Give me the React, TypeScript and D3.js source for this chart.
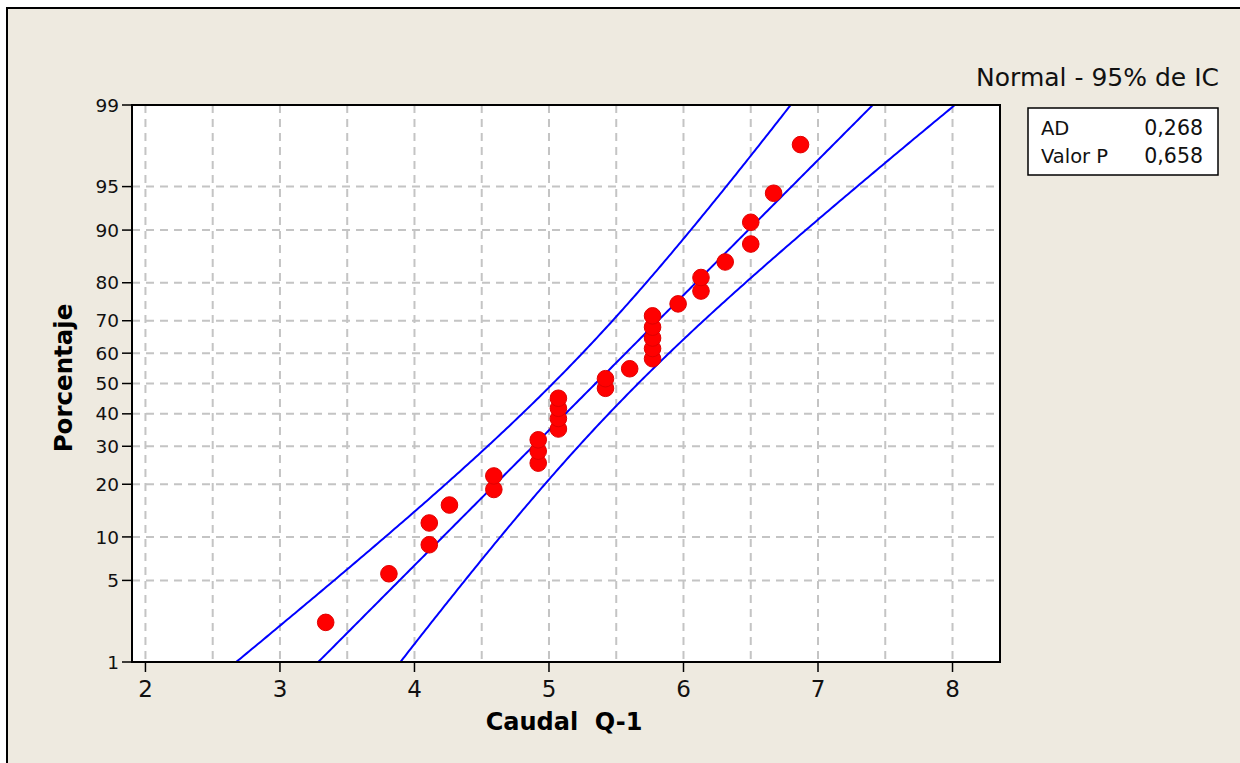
import React, { useEffect, useRef } from 'react'
import * as d3 from 'd3'

// values
const caudal = [3.34, 3.81, 4.11, 4.11, 4.26, 4.59, 4.59, 4.92, 4.92, 4.92,
  5.07, 5.07, 5.07, 5.07, 5.42, 5.42, 5.60, 5.77, 5.77, 5.77,
  5.77, 5.77, 5.96, 6.13, 6.13, 6.31, 6.50, 6.50, 6.67, 6.87];
const porcentaje = [2.3, 5.6, 8.9, 12.2, 15.5, 18.8, 22.0, 25.3, 28.6, 31.9,
  35.2, 38.5, 41.8, 45.1, 48.4, 51.6, 54.9, 58.2, 61.5, 64.8,
  68.1, 71.4, 74.7, 78.0, 81.2, 84.5, 87.8, 91.1, 94.4, 97.7];
const yTicks = [1, 5, 10, 20, 30, 40, 50, 60, 70, 80, 90, 95, 99];
const xTicks = [2, 3, 4, 5, 6, 7, 8];
const xGrid = [2, 2.5, 3, 3.5, 4, 4.5, 5, 5.5, 6, 6.5, 7, 7.5, 8];
const fit = { media: 5.346, desv: 0.886, n: 30 };
const stats = [["AD", "0,268"], ["Valor P", "0,658"]];

// inverse normal cdf (Acklam)
function probit(p: number) {
  const a = [-39.69683028665376, 220.9460984245205, -275.9285104469687, 138.357751867269, -30.66479806614716, 2.506628277459239];
  const b = [-54.47609879822406, 161.5858368580409, -155.6989798598866, 66.80131188771972, -13.28068155288572];
  const c = [-0.007784894002430293, -0.3223964580411365, -2.400758277161838, -2.549732539343734, 4.374664141464968, 2.938163982698783];
  const d = [0.007784695709041462, 0.3224671290700398, 2.445134137142996, 3.754408661907416];
  const pl = 0.02425;
  let q, r;
  if (p < pl) {
    q = Math.sqrt(-2 * Math.log(p));
    return (((((c[0] * q + c[1]) * q + c[2]) * q + c[3]) * q + c[4]) * q + c[5]) / ((((d[0] * q + d[1]) * q + d[2]) * q + d[3]) * q + 1);
  }
  if (p <= 1 - pl) {
    q = p - 0.5; r = q * q;
    return (((((a[0] * r + a[1]) * r + a[2]) * r + a[3]) * r + a[4]) * r + a[5]) * q / (((((b[0] * r + b[1]) * r + b[2]) * r + b[3]) * r + b[4]) * r + 1);
  }
  q = Math.sqrt(-2 * Math.log(1 - p));
  return -(((((c[0] * q + c[1]) * q + c[2]) * q + c[3]) * q + c[4]) * q + c[5]) / ((((d[0] * q + d[1]) * q + d[2]) * q + d[3]) * q + 1);
}

const font = "'DejaVu Sans', Verdana, sans-serif";

export default function App() {
  const ref = useRef<SVGSVGElement>(null);

  useEffect(() => {
    const svg = d3.select(ref.current);
    svg.selectAll("*").remove();

    const left = 132, right = 1000, top = 105, bottom = 662;
    const x = d3.scaleLinear().domain([1.9, 8.353]).range([left, right]);
    const zScale = d3.scaleLinear().domain([probit(0.01), probit(0.99)]).range([bottom, top]);
    const y = (p: number) => zScale(probit(p / 100));

    // background frame
    svg.append("rect").attr("width", 1240).attr("height", 763).attr("fill", "#ffffff");
    svg.append("rect").attr("x", 7).attr("y", 8).attr("width", 1240).attr("height", 770)
      .attr("fill", "#eeeae0").attr("stroke", "#000").attr("stroke-width", 2);

    svg.append("defs").append("clipPath").attr("id", "plotclip")
      .append("rect").attr("x", left).attr("y", top).attr("width", right - left).attr("height", bottom - top);

    svg.append("rect").attr("x", left).attr("y", top).attr("width", right - left).attr("height", bottom - top)
      .attr("fill", "#fff");

    // grid
    const grid = svg.append("g").attr("stroke", "#c4c4c4").attr("stroke-width", 2).attr("stroke-dasharray", "8,6");
    grid.selectAll("line.v").data(xGrid).enter().append("line")
      .attr("x1", (d) => x(d)).attr("x2", (d) => x(d))
      .attr("y1", top).attr("y2", bottom);
    grid.selectAll("line.h").data(yTicks.filter((t) => t > 1 && t < 99)).enter().append("line")
      .attr("x1", left).attr("x2", right)
      .attr("y1", (d) => y(d)).attr("y2", (d) => y(d));

    // fitted line and 95% bands
    const zs = d3.range(probit(0.01) - 0.05, probit(0.99) + 0.05, 0.02);
    const { media, desv, n } = fit;
    const band = (k: number) => zs.map((z) => [
      x(media + z * desv + k * 1.96 * desv * Math.sqrt(1 / n + z * z / (2 * n))),
      zScale(z)
    ] as [number, number]);
    const line = d3.line();
    const lines = svg.append("g").attr("clip-path", "url(#plotclip)");
    [-1, 0, 1].forEach((k) => {
      lines.append("path").attr("d", line(band(k)))
        .attr("fill", "none").attr("stroke", "#0000ff").attr("stroke-width", 2);
    });

    // points
    svg.append("g").selectAll("circle")
      .data(caudal.map((c, i) => [c, porcentaje[i]]))
      .enter().append("circle")
      .attr("cx", (d) => x(d[0])).attr("cy", (d) => y(d[1])).attr("r", 8.3)
      .attr("fill", "#ff0000").attr("stroke", "#e00000").attr("stroke-width", 1);

    // frame
    svg.append("rect").attr("x", left).attr("y", top).attr("width", right - left).attr("height", bottom - top)
      .attr("fill", "none").attr("stroke", "#000").attr("stroke-width", 2);

    // y axis
    const ya = svg.append("g");
    yTicks.forEach((t) => {
      ya.append("line").attr("x1", left - 10).attr("x2", left).attr("y1", y(t)).attr("y2", y(t))
        .attr("stroke", "#000").attr("stroke-width", 1.5);
      ya.append("text").attr("x", left - 13).attr("y", y(t)).attr("dy", "0.36em")
        .attr("text-anchor", "end").attr("font-family", font).attr("font-size", 18.5)
        .attr("fill", "#111").text(t);
    });

    // x axis
    const xa = svg.append("g");
    xTicks.forEach((t) => {
      xa.append("line").attr("x1", x(t)).attr("x2", x(t)).attr("y1", bottom).attr("y2", bottom + 10)
        .attr("stroke", "#000").attr("stroke-width", 1.5);
      xa.append("text").attr("x", x(t)).attr("y", bottom + 35)
        .attr("text-anchor", "middle").attr("font-family", font).attr("font-size", 23)
        .attr("fill", "#111").text(t);
    });

    svg.append("text").attr("x", 564).attr("y", 730).attr("text-anchor", "middle")
      .attr("font-family", font).attr("font-size", 24).attr("font-weight", "bold")
      .attr("xml:space", "preserve").style("white-space", "pre").text("Caudal  Q-1");

    svg.append("text").attr("transform", "translate(72,378) rotate(-90)").attr("text-anchor", "middle")
      .attr("font-family", font).attr("font-size", 24.5).attr("font-weight", "bold").text("Porcentaje");

    // title + legend box
    svg.append("text").attr("x", 1219).attr("y", 86).attr("text-anchor", "end")
      .attr("font-family", font).attr("font-size", 25).attr("fill", "#111").text("Normal - 95% de IC");

    svg.append("rect").attr("x", 1028).attr("y", 108).attr("width", 190).attr("height", 67)
      .attr("fill", "#fff").attr("stroke", "#000").attr("stroke-width", 1.5);
    stats.forEach((s, i) => {
      svg.append("text").attr("x", 1041).attr("y", 135 + i * 28)
        .attr("font-family", font).attr("font-size", 19.5).attr("fill", "#111").text(s[0]);
      svg.append("text").attr("x", 1203).attr("y", 135 + i * 28).attr("text-anchor", "end")
        .attr("font-family", font).attr("font-size", 20.5).attr("fill", "#111").text(s[1]);
    });
  }, []);

  return (
    <svg ref={ref} width={1240} height={763}
      style={{ position: 'absolute', left: 0, top: 0, display: 'block' }} />
  );
}
